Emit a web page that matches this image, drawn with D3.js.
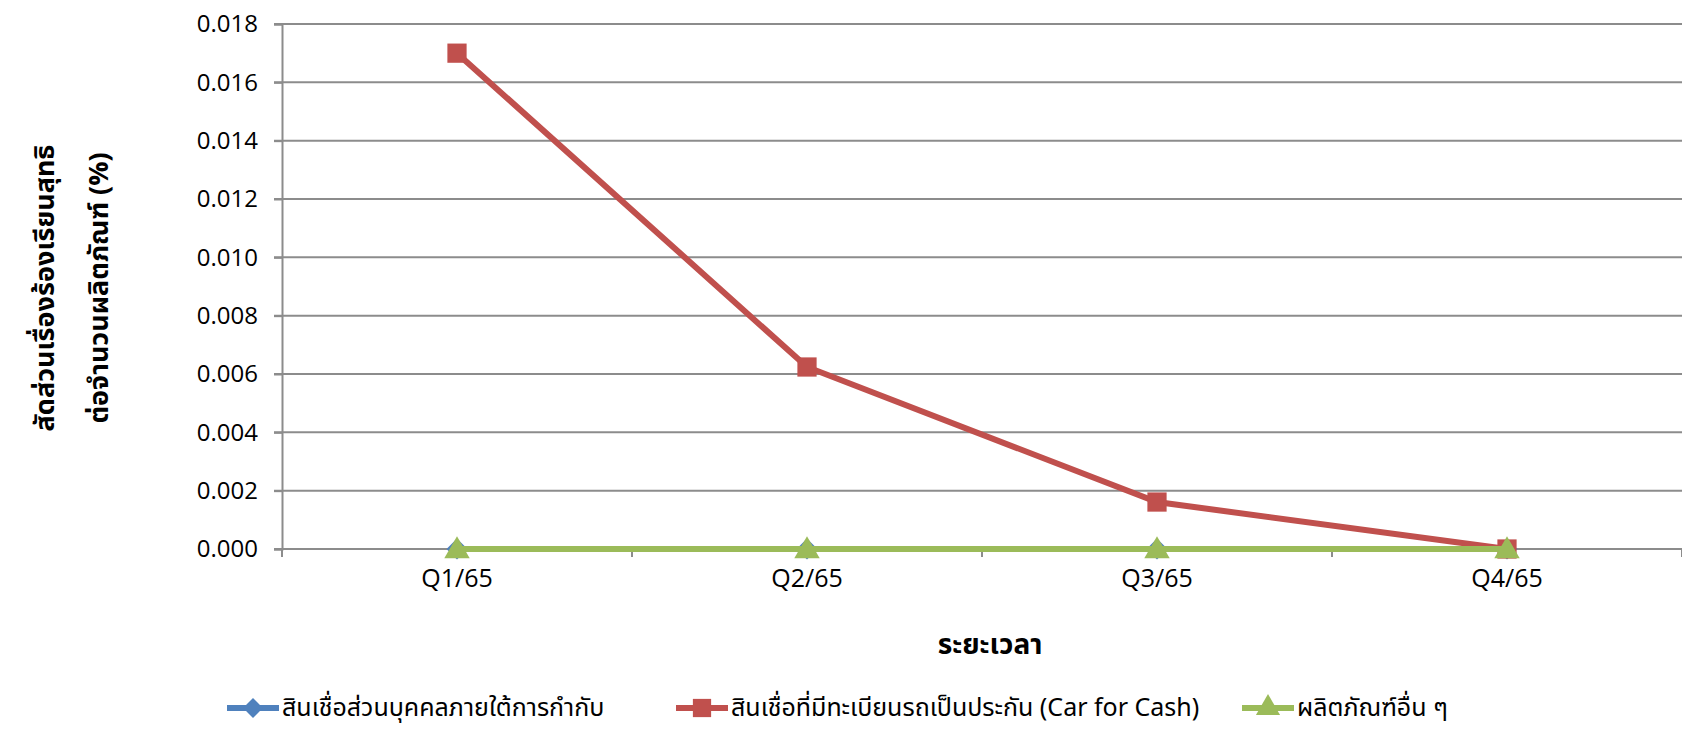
<!DOCTYPE html>
<html>
<head>
<meta charset="utf-8">
<script src="https://cdn.jsdelivr.net/npm/d3@7"></script>
<style>
  body { margin: 0; background: #fff; }
  text { font-family: "Noto Sans Thai", "Noto Sans", "Open Sans", sans-serif; }
</style>
</head>
<body>
<script>
// ข้อมูล
var quarters = ["Q1/65", "Q2/65", "Q3/65", "Q4/65"];
var personal_loan = [0, 0, 0, 0];
var car_for_cash = [0.017, 0.00624, 0.00161, 0];
var other_products = [0, 0, 0, 0];
var series_names = ["สินเชื่อส่วนบุคคลภายใต้การกำกับ", "สินเชื่อที่มีทะเบียนรถเป็นประกัน (Car for Cash)", "ผลิตภัณฑ์อื่น ๆ"];
var y_ticks = [0, 0.002, 0.004, 0.006, 0.008, 0.010, 0.012, 0.014, 0.016, 0.018];

// 基本設定
var w = 1682;
var h = 734;
var pleft = 282, pright = 1682, ptop = 24, pbottom = 549;

var svg = d3.select("body").append("svg")
  .attr("width", w)
  .attr("height", h);

var x = d3.scaleBand().domain(quarters).range([pleft, pright]);
var y = d3.scaleLinear().domain([0, 0.018]).range([pbottom, ptop]);

// gridlines
svg.append("g")
  .selectAll("line")
  .data(y_ticks)
  .enter()
  .append("line")
  .attr("x1", pleft - 8)
  .attr("x2", pright)
  .attr("y1", function(d){ return y(d); })
  .attr("y2", function(d){ return y(d); })
  .attr("stroke", "#8c8c8c")
  .attr("stroke-width", 2);

// y axis
var yAxis = svg.append("g")
  .attr("transform", "translate(" + pleft + ",0)")
  .call(d3.axisLeft(y).tickValues(y_ticks).tickFormat(d3.format(".3f")).tickSize(8).tickPadding(16));
yAxis.select(".domain").attr("stroke", "#8c8c8c").attr("stroke-width", 2);
yAxis.selectAll(".tick line").attr("stroke", "#8c8c8c").attr("stroke-width", 2);
yAxis.selectAll("text").attr("font-size", "24px").attr("fill", "#000")
  .style("font-family", "'Open Sans', sans-serif");

// x axis
var xAxis = svg.append("g")
  .attr("transform", "translate(0," + pbottom + ")")
  .call(d3.axisBottom(x).tickSize(0).tickPadding(20));
xAxis.select(".domain").remove();
xAxis.selectAll("text").attr("font-size", "25px").attr("fill", "#000")
  .style("font-family", "'Open Sans', sans-serif");
// category boundary ticks
svg.append("g")
  .selectAll("line")
  .data(quarters.concat(["end"]))
  .enter()
  .append("line")
  .attr("x1", function(d, i){ return pleft + x.step() * i; })
  .attr("x2", function(d, i){ return pleft + x.step() * i; })
  .attr("y1", pbottom)
  .attr("y2", pbottom + 8)
  .attr("stroke", "#8c8c8c")
  .attr("stroke-width", 2);

// lines
var series = [
  {name: series_names[0], vals: personal_loan, color: "#4F81BD", shape: d3.symbolDiamond2, size: 280},
  {name: series_names[1], vals: car_for_cash, color: "#C0504D", shape: d3.symbolSquare, size: 370},
  {name: series_names[2], vals: other_products, color: "#9BBB59", shape: d3.symbolTriangle, size: 280}
];

var line = d3.line()
  .x(function(d, i){ return x(quarters[i]) + x.bandwidth() / 2; })
  .y(function(d){ return y(d); });

series.forEach(function(s){
  svg.append("path")
    .attr("d", line(s.vals))
    .attr("fill", "none")
    .attr("stroke", s.color)
    .attr("stroke-width", 6);
  svg.append("g")
    .selectAll("path")
    .data(s.vals)
    .enter()
    .append("path")
    .attr("d", d3.symbol().type(s.shape).size(s.size))
    .attr("transform", function(d, i){
      var dy = s.shape === d3.symbolTriangle ? 2 : 0;
      return "translate(" + (x(quarters[i]) + x.bandwidth() / 2) + "," + (y(d) + dy) + ")";
    })
    .attr("fill", s.color);
});

// axis titles
svg.append("text")
  .attr("x", (pleft + pright) / 2 + 8)
  .attr("y", 654)
  .attr("text-anchor", "middle")
  .attr("font-size", "28px")
  .attr("font-weight", "bold")
  .text("ระยะเวลา");

var ytitle = svg.append("text")
  .attr("transform", "translate(0,288) rotate(-90)")
  .attr("text-anchor", "middle")
  .attr("font-size", "27px")
  .attr("font-weight", "bold");
ytitle.append("tspan").attr("x", 0).attr("y", 54).text("สัดส่วนเรื่องร้องเรียนสุทธิ");
ytitle.append("tspan").attr("x", 0).attr("y", 108).text("ต่อจำนวนผลิตภัณฑ์ (%)");

// legend
var legend_x = [227, 676, 1242];
var leg = svg.append("g")
  .selectAll("g")
  .data(series)
  .enter()
  .append("g")
  .attr("transform", function(d, i){ return "translate(" + legend_x[i] + ",708)"; });
leg.append("line")
  .attr("x1", 0).attr("x2", 52)
  .attr("stroke", function(d){ return d.color; })
  .attr("stroke-width", 6);
leg.append("path")
  .attr("d", function(d){ return d3.symbol().type(d.shape).size(d.size * 0.9)(); })
  .attr("transform", "translate(26,0)")
  .attr("fill", function(d){ return d.color; });
leg.append("text")
  .attr("x", 55)
  .attr("y", 8)
  .attr("font-size", "25px")
  .text(function(d){ return d.name; });
</script>
</body>
</html>
